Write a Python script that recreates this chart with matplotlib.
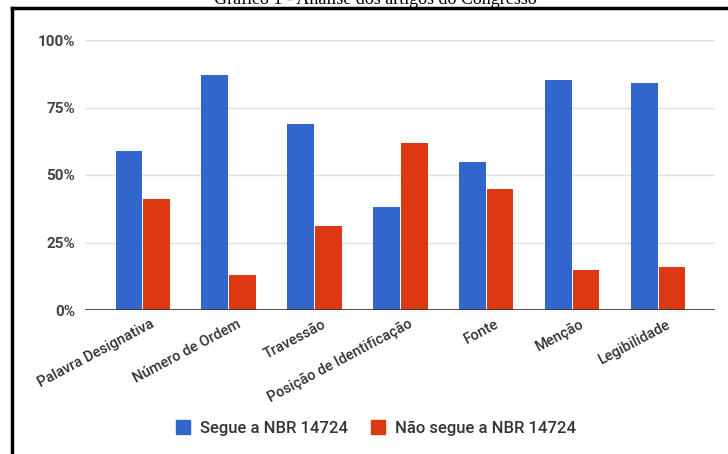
import numpy as np
import matplotlib.pyplot as plt
from matplotlib.lines import Line2D
from matplotlib.patches import Patch

categorias = ["Palavra Designativa", "Número de Ordem", "Travessão",
              "Posição de Identificação", "Fonte", "Menção", "Legibilidade"]
segue = [59, 87, 69, 38, 55, 85, 84]
nao_segue = [41, 13, 31, 62, 45, 15, 16]
yticks = [0, 25, 50, 75, 100]
ytick_labels = ["0%", "25%", "50%", "75%", "100%"]

azul = "#3366cc"
vermelho = "#dc3912"

plt.rcParams['font.family'] = ['Roboto', 'DejaVu Sans']

fig = plt.figure(figsize=(7.28, 4.54), dpi=100)
ax = fig.add_axes([85/728, 1-310/454, 630/728, 270/454])

x = np.arange(len(categorias))
w = 0.31
ax.bar(x - w/2 - 0.005, segue, w, color=azul, zorder=3)
ax.bar(x + w/2 + 0.005, nao_segue, w, color=vermelho, zorder=3)

ax.set_xlim(-0.67, 6.66)
ax.set_ylim(0, 100)
ax.set_yticks(yticks)
ax.set_yticklabels(ytick_labels, fontsize=11, color="#444444", fontweight="bold")
ax.grid(axis="y", color="#e0e0e0", linewidth=1, zorder=0)
ax.axhline(0, color="#333333", linewidth=1.2, zorder=4)
for s in ax.spines.values():
    s.set_visible(False)
ax.tick_params(axis="y", length=0, pad=7)
ax.tick_params(axis="x", length=0, pad=5)
ax.set_xticks(x + 0.09)
ax.set_xticklabels(categorias, rotation=28, ha="right", rotation_mode="anchor",
                   fontsize=10.5, color="#333333", fontweight="medium")

ax.legend(handles=[Patch(color=azul, label="Segue a NBR 14724"),
                   Patch(color=vermelho, label="Não segue a NBR 14724")],
          loc="center", bbox_to_anchor=(376/728, 1-428/454), bbox_transform=fig.transFigure,
          ncol=2, frameon=False, fontsize=12, handlelength=0.85, handleheight=0.85,
          columnspacing=1.4, handletextpad=0.6, labelcolor="#333333",
          prop={"size": 12, "weight": "medium"})

# moldura e título cortado no topo
fig.add_artist(Line2D([12/728, 12/728], [0, 1-8/454], color="black", linewidth=2.5))
fig.add_artist(Line2D([12/728, 1], [1-8/454, 1-8/454], color="black", linewidth=2.5))
fig.text(375/728, 1-4/454, "Gráfico 1 - Análise dos artigos do Congresso",
         ha="center", va="baseline", fontsize=13, family="Liberation Serif")

fig.savefig("out.png", dpi=100)
